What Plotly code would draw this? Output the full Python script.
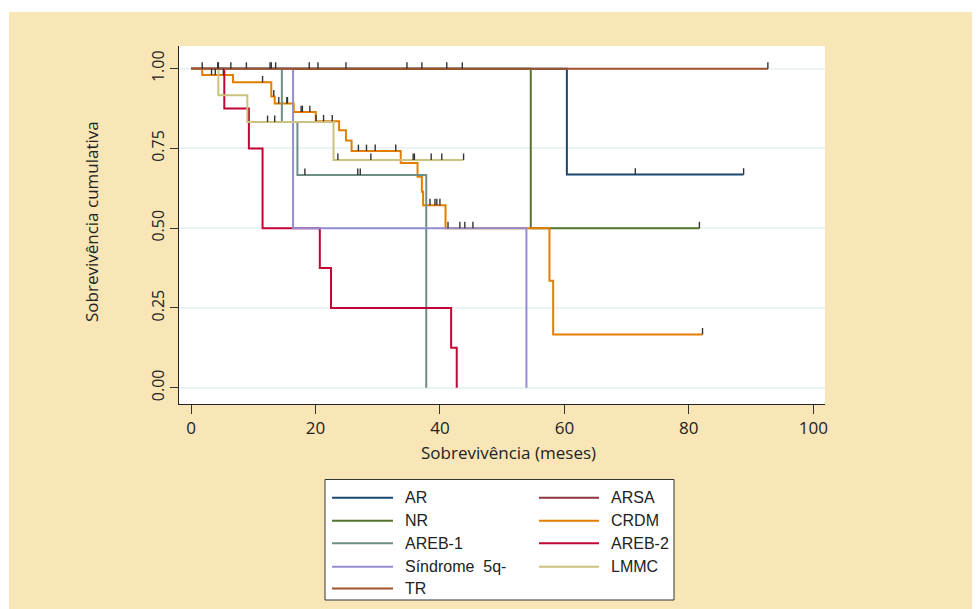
import plotly.graph_objects as go

# ---------------- data ----------------
series_names = ["AR", "ARSA", "NR", "CRDM", "AREB-1", "AREB-2", "Síndrome  5q-", "LMMC", "TR"]
series_colors = ["#1a476f", "#90353b", "#55752f", "#e37e00", "#6e8e84",
                 "#c10534", "#938dd2", "#cac27e", "#a0522d"]

AR_time = [0, 60.4, 88.8]
AR_surv = [1.0, 0.668, 0.668]
AR_cens = [71.4, 88.8]

ARSA_time = [0, 43.6]
ARSA_surv = [1.0, 1.0]
ARSA_cens = []

NR_time = [0, 54.6, 81.7]
NR_surv = [1.0, 0.5, 0.5]
NR_cens = [81.7]

CRDM_time = [0, 1.8, 6.75, 12.9, 13.45, 16.5, 20.04, 23.8, 24.9, 25.8, 33.7, 36.4,
             37.1, 37.3, 40.9, 57.6, 58.2, 82.2]
CRDM_surv = [1.0, 0.980, 0.957, 0.913, 0.891, 0.864, 0.835, 0.807, 0.775, 0.742, 0.704,
             0.661, 0.614, 0.572, 0.500, 0.335, 0.167, 0.167]
CRDM_cens = [3.3, 3.9, 5.2, 11.5, 13.3, 14.1, 15.4, 15.5, 17.7, 17.9, 19.1, 20.1, 21.3,
             22.7, 26.9, 28.2, 29.6, 32.9, 38.4, 39.2, 39.5, 40.0, 41.3, 43.2, 44.0, 45.3, 82.2]

AREB1_time = [0, 14.6, 17.1, 37.8]
AREB1_surv = [1.0, 0.833, 0.667, 0.0]
AREB1_cens = [18.3, 26.8, 27.2]

AREB2_time = [0, 5.35, 9.3, 11.5, 20.7, 22.5, 41.8, 42.7]
AREB2_surv = [1.0, 0.875, 0.75, 0.5, 0.375, 0.25, 0.125, 0.0]
AREB2_cens = []

S5Q_time = [0, 16.4, 53.9]
S5Q_surv = [1.0, 0.5, 0.0]
S5Q_cens = []

LMMC_time = [0, 4.4, 9.05, 22.9, 43.8]
LMMC_surv = [1.0, 0.917, 0.833, 0.714, 0.714]
LMMC_cens = [12.3, 13.45, 23.6, 28.9, 35.7, 35.9, 38.6, 40.3, 43.8]

TR_time = [0, 92.7]
TR_surv = [1.0, 1.0]
TR_cens = [1.8, 4.3, 4.4, 6.4, 8.9, 12.7, 12.9, 13.6, 19.0, 20.4, 24.9, 34.7, 37.1,
           41.1, 43.6, 92.7]

x_ticks = [0, 20, 40, 60, 80, 100]
y_ticks = [0.0, 0.25, 0.50, 0.75, 1.00]
y_ticklabels = ["0.00", "0.25", "0.50", "0.75", "1.00"]

series = [
    (AR_time, AR_surv, AR_cens),
    (ARSA_time, ARSA_surv, ARSA_cens),
    (NR_time, NR_surv, NR_cens),
    (CRDM_time, CRDM_surv, CRDM_cens),
    (AREB1_time, AREB1_surv, AREB1_cens),
    (AREB2_time, AREB2_surv, AREB2_cens),
    (S5Q_time, S5Q_surv, S5Q_cens),
    (LMMC_time, LMMC_surv, LMMC_cens),
    (TR_time, TR_surv, TR_cens),
]

# ---------------- figure ----------------
# page body has an 8px margin, so the figure is sized to fit the window
OFF = 8
W, H = 980 - OFF, 609 - OFF
ML, MR, MT, MB = 179 - OFF, 155, 46 - OFF, 205
PW, PH = W - ML - MR, H - MT - MB
BEIGE = "#f8e6b7"


def px2paper_x(px):  # screen px -> paper
    return (px - OFF - ML) / PW


def px2paper_y(py):
    return (H - MB - (py - OFF)) / PH


def surv_at(times, survs, t):
    s = survs[0]
    for ti, si in zip(times, survs):
        if ti <= t:
            s = si
    return s


fig = go.Figure()

for (t, s, c), name, col in zip(series, series_names, series_colors):
    fig.add_trace(go.Scatter(x=t, y=s, mode="lines", line_shape="hv",
                             line=dict(color=col, width=2), name=name,
                             showlegend=False, hoverinfo="skip"))

TICK_H = 0.02
cx, cy = [], []
for (t, s, c) in series:
    for ct in c:
        v = surv_at(t, s, ct)
        cx += [ct, ct, None]
        cy += [v, v + TICK_H, None]
fig.add_trace(go.Scatter(x=cx, y=cy, mode="lines", line=dict(color="#333333", width=1.4),
                         showlegend=False, hoverinfo="skip"))

shapes = []
# white strips above / left of the beige panel
shapes.append(dict(type="rect", xref="paper", yref="paper", layer="below",
                   x0=-0.5, x1=1.5, y0=px2paper_y(12), y1=px2paper_y(-20),
                   fillcolor="white", line=dict(width=0)))
shapes.append(dict(type="rect", xref="paper", yref="paper", layer="below",
                   x0=px2paper_x(-20), x1=px2paper_x(9), y0=-1, y1=1.5,
                   fillcolor="white", line=dict(width=0)))

# legend box
shapes.append(dict(type="rect", xref="paper", yref="paper",
                   x0=px2paper_x(325), x1=px2paper_x(674),
                   y0=px2paper_y(600), y1=px2paper_y(479.5),
                   fillcolor="white", line=dict(color="#333333", width=1)))

annotations = []
row_y = [497.7, 520.7, 543.3, 566.7, 588.5]
col_line = [(332, 393, 403), (539, 599, 609)]
for i, (name, col) in enumerate(zip(series_names, series_colors)):
    r, c = divmod(i, 2)
    lx0, lx1, tx = col_line[c]
    yy = px2paper_y(row_y[r])
    shapes.append(dict(type="line", xref="paper", yref="paper",
                       x0=px2paper_x(lx0), x1=px2paper_x(lx1), y0=yy, y1=yy,
                       line=dict(color=col, width=2)))
    annotations.append(dict(xref="paper", yref="paper", x=px2paper_x(tx), y=yy,
                            xanchor="left", yanchor="middle", showarrow=False,
                            text=name.replace("  ", "\u00a0 "),
                            font=dict(family="Liberation Sans, Arial", size=16, color="#222222")))

annotations.append(dict(xref="paper", yref="paper", x=px2paper_x(508), y=px2paper_y(453),
                        xanchor="center", yanchor="middle", showarrow=False,
                        text="Sobrevivência (meses)",
                        font=dict(family="Open Sans", size=17, color="#222222")))
annotations.append(dict(xref="paper", yref="paper", x=px2paper_x(91), y=px2paper_y(222),
                        xanchor="center", yanchor="middle", showarrow=False, textangle=-90,
                        text="Sobrevivência cumulativa",
                        font=dict(family="Open Sans", size=17, color="#222222")))

fig.update_layout(
    width=W, height=H,
    margin=dict(l=ML, r=MR, t=MT, b=MB, autoexpand=False),
    paper_bgcolor=BEIGE, plot_bgcolor="white",
    showlegend=False,
    shapes=shapes, annotations=annotations,
    font=dict(family="Open Sans", size=17, color="#222222"),
)
fig.update_xaxes(range=[-1.93, 101.88], tickvals=x_ticks, ticks="outside", ticklen=9,
                 tickwidth=1, tickcolor="#333333", showgrid=False, zeroline=False,
                 showline=True, linecolor="#222222", linewidth=1,
                 tickfont=dict(family="Open Sans", size=17, color="#222222"))
fig.update_yaxes(range=[-0.051, 1.071], tickvals=y_ticks, ticktext=y_ticklabels,
                 ticks="outside", ticklen=8, tickwidth=1, tickcolor="#333333",
                 tickangle=-90, showgrid=True, gridcolor="#eaf2f3", gridwidth=1.5,
                 zeroline=False, showline=True, linecolor="#222222", linewidth=1,
                 tickfont=dict(family="Open Sans", size=16, color="#222222"))

fig.write_html("out.html")
